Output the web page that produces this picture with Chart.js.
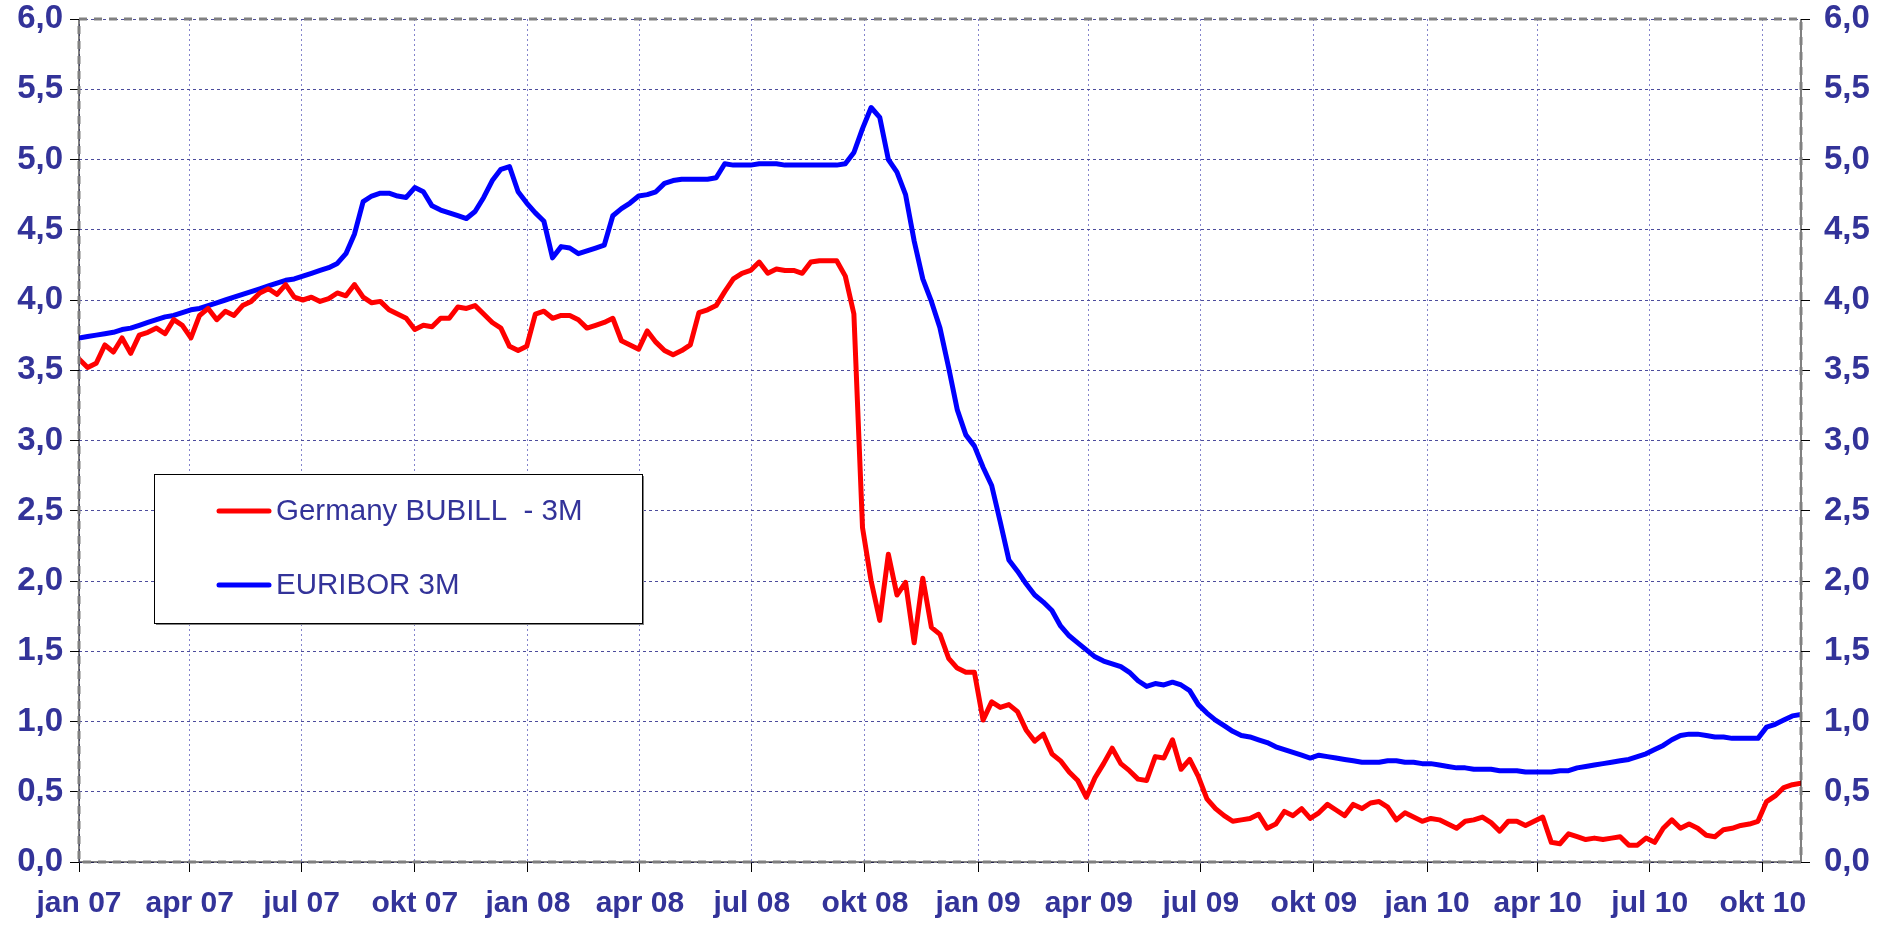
<!DOCTYPE html>
<html>
<head>
<meta charset="utf-8">
<script src="https://cdn.jsdelivr.net/npm/chart.js@4/dist/chart.umd.min.js"></script>
<style>
  html, body { margin: 0; padding: 0; background: #fff; }
  #wrap { width: 1883px; height: 928px; position: relative; }
</style>
</head>
<body>
<div id="wrap"><canvas id="rates"></canvas></div>
<script>
// weekly readings, first point 1 jan 2007, one value every 7 days
const stepDays = 7;

const bubill = [
  3.58, 3.52, 3.55, 3.68, 3.63, 3.73, 3.62, 3.75, 3.77, 3.80,
  3.76, 3.86, 3.82, 3.73, 3.89, 3.94, 3.86, 3.92, 3.89, 3.96,
  3.99, 4.05, 4.08, 4.04, 4.11, 4.02, 4.00, 4.02, 3.99, 4.01,
  4.05, 4.03, 4.11, 4.02, 3.98, 3.99, 3.93, 3.90, 3.87, 3.79,
  3.82, 3.81, 3.87, 3.87, 3.95, 3.94, 3.96, 3.90, 3.84, 3.80,
  3.67, 3.64, 3.67, 3.90, 3.92, 3.87, 3.89, 3.89, 3.86, 3.80,
  3.82, 3.84, 3.87, 3.71, 3.68, 3.65, 3.78, 3.70, 3.64, 3.61,
  3.64, 3.68, 3.91, 3.93, 3.96, 4.06, 4.15, 4.19, 4.21, 4.27,
  4.19, 4.22, 4.21, 4.21, 4.19, 4.27, 4.28, 4.28, 4.28, 4.17,
  3.90, 2.38, 2.00, 1.72, 2.19, 1.90, 1.99, 1.56, 2.02, 1.67,
  1.62, 1.45, 1.38, 1.35, 1.35, 1.01, 1.14, 1.10, 1.12, 1.07,
  0.94, 0.86, 0.91, 0.77, 0.72, 0.64, 0.58, 0.46, 0.60, 0.70,
  0.81, 0.70, 0.65, 0.59, 0.58, 0.75, 0.74, 0.87, 0.66, 0.73,
  0.61, 0.45, 0.38, 0.33, 0.29, 0.30, 0.31, 0.34, 0.24, 0.27,
  0.36, 0.33, 0.38, 0.31, 0.35, 0.41, 0.37, 0.33, 0.41, 0.38,
  0.42, 0.43, 0.39, 0.30, 0.35, 0.32, 0.29, 0.31, 0.30, 0.27,
  0.24, 0.29, 0.30, 0.32, 0.28, 0.22, 0.29, 0.29, 0.26, 0.29,
  0.32, 0.14, 0.13, 0.20, 0.18, 0.16, 0.17, 0.16, 0.17, 0.18,
  0.12, 0.12, 0.17, 0.14, 0.24, 0.30, 0.24, 0.27, 0.24, 0.19,
  0.18, 0.23, 0.24, 0.26, 0.27, 0.29, 0.43, 0.47, 0.53, 0.55,
  0.56
];

const euribor = [
  3.73, 3.74, 3.75, 3.76, 3.77, 3.79, 3.80, 3.82, 3.84, 3.86,
  3.88, 3.89, 3.91, 3.93, 3.94, 3.96, 3.98, 4.00, 4.02, 4.04,
  4.06, 4.08, 4.10, 4.12, 4.14, 4.15, 4.17, 4.19, 4.21, 4.23,
  4.26, 4.33, 4.47, 4.70, 4.74, 4.76, 4.76, 4.74, 4.73, 4.80,
  4.77, 4.67, 4.64, 4.62, 4.60, 4.58, 4.63, 4.73, 4.85, 4.93,
  4.95, 4.77, 4.69, 4.62, 4.56, 4.30, 4.38, 4.37, 4.33, 4.35,
  4.37, 4.39, 4.60, 4.65, 4.69, 4.74, 4.75, 4.77, 4.83, 4.85,
  4.86, 4.86, 4.86, 4.86, 4.87, 4.97, 4.96, 4.96, 4.96, 4.97,
  4.97, 4.97, 4.96, 4.96, 4.96, 4.96, 4.96, 4.96, 4.96, 4.97,
  5.05, 5.22, 5.37, 5.30, 5.00, 4.91, 4.75, 4.42, 4.15, 3.99,
  3.80, 3.52, 3.22, 3.04, 2.96, 2.81, 2.68, 2.42, 2.15, 2.07,
  1.98, 1.90, 1.85, 1.79, 1.68, 1.61, 1.56, 1.51, 1.46, 1.43,
  1.41, 1.39, 1.35, 1.29, 1.25, 1.27, 1.26, 1.28, 1.26, 1.22,
  1.12, 1.06, 1.01, 0.97, 0.93, 0.90, 0.89, 0.87, 0.85, 0.82,
  0.80, 0.78, 0.76, 0.74, 0.76, 0.75, 0.74, 0.73, 0.72, 0.71,
  0.71, 0.71, 0.72, 0.72, 0.71, 0.71, 0.70, 0.70, 0.69, 0.68,
  0.67, 0.67, 0.66, 0.66, 0.66, 0.65, 0.65, 0.65, 0.64, 0.64,
  0.64, 0.64, 0.65, 0.65, 0.67, 0.68, 0.69, 0.70, 0.71, 0.72,
  0.73, 0.75, 0.77, 0.80, 0.83, 0.87, 0.90, 0.91, 0.91, 0.90,
  0.89, 0.89, 0.88, 0.88, 0.88, 0.88, 0.96, 0.98, 1.01, 1.04,
  1.05
];

// quarter starts, days since 1 jan 2007
const quarterDays = [0, 90, 181, 273, 365, 456, 547, 639, 731, 821, 912, 1004, 1096, 1186, 1277, 1369];
const quarterLabels = ['jan 07', 'apr 07', 'jul 07', 'okt 07', 'jan 08', 'apr 08', 'jul 08', 'okt 08',
                       'jan 09', 'apr 09', 'jul 09', 'okt 09', 'jan 10', 'apr 10', 'jul 10', 'okt 10'];
const lastDay = 1400;

const seriesNames = ['Germany BUBILL  - 3M', 'EURIBOR 3M'];
const seriesColors = ['#ff0000', '#0000ff'];

const navy = '#333399';
const toPoints = vals => vals.map((v, i) => ({ x: i * stepDays, y: v }));
const fmt = v => Number(v).toFixed(1).replace('.', ',');
// keep the plot edges fixed, labels may hang over
const noEdgePad = s => { s.paddingTop = 0; s.paddingBottom = 0; };

// dashed grey frame + thin black axis lines
const framePlugin = {
  id: 'frame',
  afterDraw(chart) {
    const { ctx, chartArea: a } = chart;
    ctx.save();
    ctx.strokeStyle = '#000';
    ctx.lineWidth = 1;
    ctx.beginPath();
    ctx.moveTo(a.left, a.top);
    ctx.lineTo(a.left, a.bottom);
    ctx.lineTo(a.right, a.bottom);
    ctx.lineTo(a.right, a.top);
    ctx.stroke();
    ctx.strokeStyle = '#808080';
    ctx.lineWidth = 3;
    ctx.setLineDash([8, 7]);
    ctx.strokeRect(a.left, a.top, a.right - a.left, a.bottom - a.top);
    ctx.restore();
  }
};

// boxed legend sitting inside the plot
const boxLegend = {
  id: 'boxLegend',
  afterDraw(chart) {
    const { ctx } = chart;
    const x = 154, y = 474, w = 488, h = 149;
    ctx.save();
    ctx.fillStyle = '#808080';
    ctx.fillRect(x + 2, y + 2, w, h);
    ctx.fillStyle = '#fff';
    ctx.fillRect(x, y, w, h);
    ctx.strokeStyle = '#000';
    ctx.lineWidth = 1;
    ctx.strokeRect(x + 0.5, y + 0.5, w, h);
    ctx.font = '29.5px "Liberation Sans", Arial, sans-serif';
    ctx.textBaseline = 'middle';
    chart.data.datasets.forEach((ds, i) => {
      const ly = y + 37 + i * 74;
      ctx.strokeStyle = ds.borderColor;
      ctx.lineWidth = 5;
      ctx.lineCap = 'round';
      ctx.beginPath();
      ctx.moveTo(x + 65, ly);
      ctx.lineTo(x + 115, ly);
      ctx.stroke();
      ctx.fillStyle = navy;
      ctx.fillText(ds.label, x + 122, ly + 1);
    });
    ctx.restore();
  }
};

const yTickFont = { family: '"Liberation Sans", Arial, sans-serif', size: 33, weight: 'bold' };
const xTickFont = { family: '"Liberation Sans", Arial, sans-serif', size: 30, weight: 'bold' };

new Chart(document.getElementById('rates'), {
  type: 'line',
  data: {
    datasets: [
      { label: seriesNames[0], data: toPoints(bubill), borderColor: seriesColors[0], borderWidth: 5, yAxisID: 'y' },
      { label: seriesNames[1], data: toPoints(euribor), borderColor: seriesColors[1], borderWidth: 5, yAxisID: 'y' }
    ]
  },
  options: {
    responsive: true,
    maintainAspectRatio: false,
    animation: false,
    elements: { point: { radius: 0 }, line: { tension: 0, borderJoinStyle: 'round', borderCapStyle: 'round' } },
    layout: { padding: { top: 19, left: 0, right: 0, bottom: 0 } },
    plugins: { legend: { display: false }, tooltip: { enabled: false } },
    scales: {
      x: {
        type: 'linear',
        min: 0,
        max: lastDay,
        afterBuildTicks: s => { s.ticks = quarterDays.map(v => ({ value: v })); },
        afterFit: s => { s.height = 66; },
        ticks: {
          autoSkip: false, maxRotation: 0, padding: 14,
          color: navy, font: xTickFont,
          callback: (v, i) => quarterLabels[i]
        },
        grid: { color: '#8484cc', lineWidth: 1, tickLength: 10, tickColor: '#000', tickWidth: 1, tickBorderDash: [] },
        border: { display: false, dash: [2, 3] }
      },
      y: {
        position: 'left',
        min: 0, max: 6,
        afterFit: s => { s.width = 79; noEdgePad(s); },
        ticks: { stepSize: 0.5, padding: 7, color: navy, font: yTickFont, callback: fmt },
        grid: { color: '#4c4c9c', lineWidth: 1, tickLength: 9, tickColor: '#000', tickWidth: 1, tickBorderDash: [] },
        border: { display: false, dash: [3, 3] }
      },
      y2: {
        position: 'right',
        min: 0, max: 6,
        afterFit: s => { s.width = 82; noEdgePad(s); },
        ticks: { stepSize: 0.5, padding: 14, color: navy, font: yTickFont, callback: fmt },
        grid: { drawOnChartArea: false, tickLength: 9, tickColor: '#000', tickWidth: 1 },
        border: { display: false }
      }
    }
  },
  plugins: [framePlugin, boxLegend]
});
</script>
</body>
</html>
